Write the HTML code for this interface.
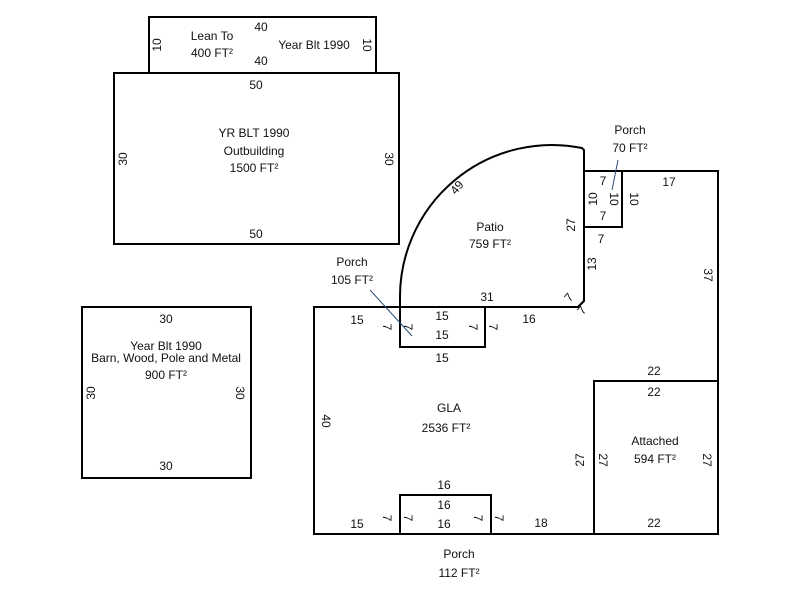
<!DOCTYPE html>
<html><head><meta charset="utf-8"><style>
html,body{margin:0;padding:0;background:#fff;}
svg{display:block;}
text{font-family:"Liberation Sans",sans-serif;font-size:12px;fill:#111;}
</style></head><body>
<svg width="800" height="600" viewBox="0 0 800 600" xmlns="http://www.w3.org/2000/svg">
<g fill="none" stroke="#000" stroke-width="2">
<rect x="149" y="17" width="227" height="56"/>
<rect x="114" y="73" width="285" height="171"/>
<rect x="82" y="307" width="169" height="171"/>
<path d="M400,307 L400,300 A152,152 0 0 1 582,148 L584,150 L584,301 L578,307 Z"/>
<path d="M314,307 L578,307 L584,301 L584,227 L622,227 L622,171 L718,171 L718,534 L314,534 Z"/>
<rect x="584" y="171" width="38" height="56"/>
<rect x="594" y="381" width="124" height="153"/>
<rect x="400" y="307" width="85" height="40"/>
<rect x="400" y="495" width="91" height="39"/>
</g>
<g stroke="#2a4d7a" stroke-width="1">
<line x1="370" y1="290" x2="412" y2="336"/>
<line x1="618" y1="160" x2="612" y2="190"/>
</g>
<g text-anchor="middle">
<text x="212" y="40">Lean To</text><text x="212" y="57">400 FT²</text>
<text x="261" y="31">40</text><text x="261" y="65">40</text>
<text x="314" y="49">Year Blt 1990</text>
<text transform="translate(161,45) rotate(-90)">10</text>
<text transform="translate(363,45) rotate(90)">10</text>
<text x="256" y="89">50</text><text x="256" y="238">50</text>
<text x="254" y="137">YR BLT 1990</text><text x="254" y="155">Outbuilding</text><text x="254" y="172">1500 FT²</text>
<text transform="translate(127,159) rotate(-90)">30</text>
<text transform="translate(385,159) rotate(90)">30</text>
<text x="166" y="323">30</text><text x="166" y="470">30</text>
<text x="166" y="350">Year Blt 1990</text><text x="166" y="362">Barn, Wood, Pole and Metal</text><text x="166" y="379">900 FT²</text>
<text transform="translate(95,393) rotate(-90)">30</text>
<text transform="translate(236,393) rotate(90)">30</text>
<text x="490" y="231">Patio</text><text x="490" y="248">759 FT²</text>
<text transform="translate(460,190) rotate(-50)">49</text>
<text transform="translate(575,225) rotate(-90)">27</text>
<text transform="translate(596,264) rotate(-90)">13</text>
<text x="487" y="301">31</text>
<text transform="translate(572,300) rotate(-50)">7</text>
<text transform="translate(585,313) rotate(-50)">7</text>
<text x="630" y="134">Porch</text><text x="630" y="152">70 FT²</text>
<text x="603" y="185">7</text><text x="603" y="220">7</text><text x="601" y="243">7</text>
<text transform="translate(597,199) rotate(-90)">10</text>
<text transform="translate(610,199) rotate(90)">10</text>
<text transform="translate(630,199) rotate(90)">10</text>
<text x="669" y="186">17</text>
<text transform="translate(704,275) rotate(90)">37</text>
<text x="352" y="266">Porch</text><text x="352" y="284">105 FT²</text>
<text x="357" y="324">15</text>
<text x="442" y="320">15</text><text x="442" y="339">15</text><text x="442" y="362">15</text>
<text transform="translate(383,327) rotate(90)">7</text>
<text transform="translate(404,327) rotate(90)">7</text>
<text transform="translate(469,327) rotate(90)">7</text>
<text transform="translate(489,327) rotate(90)">7</text>
<text x="529" y="323">16</text>
<text x="449" y="412">GLA</text><text x="446" y="432">2536 FT²</text>
<text transform="translate(322,421) rotate(90)">40</text>
<text x="654" y="375">22</text><text x="654" y="396">22</text><text x="654" y="527">22</text>
<text x="655" y="445">Attached</text><text x="655" y="463">594 FT²</text>
<text transform="translate(584,460) rotate(-90)">27</text>
<text transform="translate(599,460) rotate(90)">27</text>
<text transform="translate(703,460) rotate(90)">27</text>
<text x="444" y="489">16</text><text x="444" y="509">16</text><text x="444" y="528">16</text>
<text x="357" y="528">15</text>
<text transform="translate(383,518) rotate(90)">7</text>
<text transform="translate(404,518) rotate(90)">7</text>
<text transform="translate(474,518) rotate(90)">7</text>
<text transform="translate(495,518) rotate(90)">7</text>
<text x="541" y="527">18</text>
<text x="459" y="558">Porch</text><text x="459" y="577">112 FT²</text>
</g>
</svg>
</body></html>
